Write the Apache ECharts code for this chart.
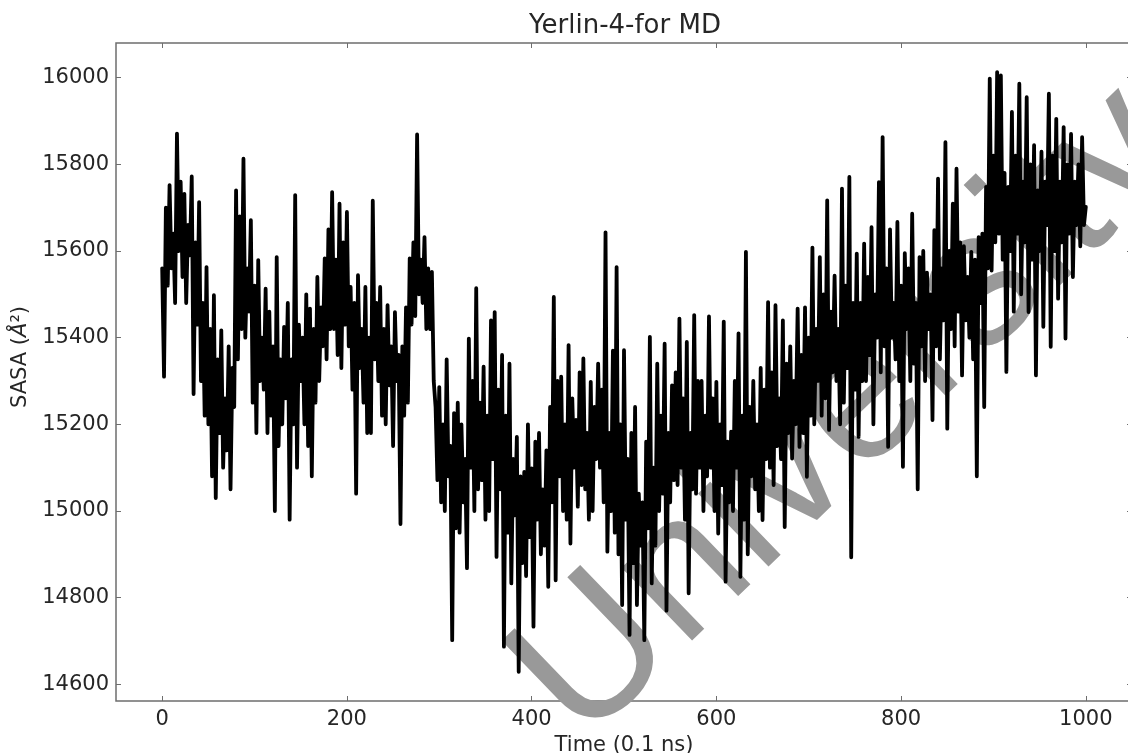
<!DOCTYPE html>
<html>
<head>
<meta charset="utf-8">
<title>Yerlin-4-for MD</title>
<script src="https://cdn.jsdelivr.net/npm/echarts@6/dist/echarts.min.js"></script>
<style>
  html, body { margin: 0; padding: 0; background: #fff; }
  #chart { width: 1128px; height: 753px; }
</style>
</head>
<body>
<div id="chart"></div>
<script>
// ── Data (one sample every 2 frames) ─────────────────────────

const SAMPLE_STEP = 2;   // time units between samples

// each row = 16 time units (peak, dip, peak, dip, ...)
const sasa = [
  15560, 15310, 15700, 15520, 15752, 15560, 15640, 15480,   // 0
  15871, 15600, 15760, 15540, 15732, 15480, 15660, 15590,
  15772, 15270, 15620, 15430, 15713, 15300, 15480, 15220,
  15563, 15200, 15420, 15080, 15498, 15030, 15350, 15180,
  15417, 15100, 15260, 15140, 15380, 15050, 15330, 15240,
  15740, 15350, 15680, 15420, 15813, 15400, 15560, 15460,   // 80
  15671, 15250, 15520, 15180, 15579, 15300, 15400, 15280,
  15513, 15180, 15460, 15220, 15380, 15000, 15586, 15150,
  15350, 15200, 15425, 15260, 15480, 14980, 15350, 15200,
  15729, 15100, 15430, 15300, 15400, 15200, 15500, 15150,
  15467, 15080, 15420, 15250, 15540, 15300, 15470, 15380,   // 160
  15583, 15350, 15650, 15420, 15736, 15420, 15580, 15360,
  15709, 15330, 15620, 15430, 15690, 15380, 15517, 15280,
  15480, 15040, 15544, 15330, 15420, 15250, 15517, 15180,
  15400, 15180, 15716, 15350, 15480, 15300, 15517, 15220,
  15420, 15200, 15475, 15290, 15380, 15150, 15459, 15300,   // 240
  15360, 14970, 15380, 15220, 15470, 15250, 15583, 15430,
  15620, 15450, 15869, 15500, 15580, 15480, 15632, 15420,
  15560, 15420, 15552, 15300, 15240, 15071, 15286, 15020,
  15200, 15000, 15350, 15080, 15150, 14702, 15226, 14960,
  15250, 14950, 15200, 15020, 15120, 14868, 15398, 15100,   // 320
  15300, 15000, 15514, 15050, 15250, 15071, 15333, 14980,
  15220, 15000, 15440, 15120, 15459, 14894, 15280, 15050,
  15360, 14687, 15220, 14950, 15340, 14833, 15120, 14990,
  15171, 14629, 15080, 14880, 15090, 14850, 15200, 14940,
  15098, 14733, 15160, 14980, 15180, 14900, 15050, 14920,   // 400
  15140, 14825, 15240, 15020, 15494, 14840, 15300, 15080,
  15310, 15000, 15200, 14980, 15383, 14925, 15260, 15100,
  15210, 15010, 15320, 15060, 15352, 15050, 15180, 14980,
  15298, 15000, 15240, 15120, 15340, 15100, 15280, 15020,
  15643, 14906, 15180, 15000, 15370, 14950, 15563, 14900,   // 480
  15200, 14783, 15371, 14980, 15120, 14714, 15180, 14880,
  15240, 14783, 15040, 14920, 15020, 14702, 15160, 14960,
  15402, 14833, 15100, 14920, 15340, 15000, 15220, 15040,
  15386, 14770, 15180, 15020, 15290, 15071, 15320, 15060,
  15444, 15100, 15260, 14980, 15390, 14810, 15180, 15050,   // 560
  15452, 15040, 15300, 15100, 15300, 15000, 15220, 15080,
  15449, 15100, 15260, 15000, 15298, 14948, 15200, 15060,
  15437, 14837, 15160, 15020, 15183, 15000, 15300, 15100,
  15410, 14848, 15220, 14980, 15598, 14900, 15240, 15080,
  15300, 15050, 15200, 15000, 15330, 14979, 15280, 15120,   // 640
  15482, 15100, 15320, 15060, 15475, 15150, 15260, 15120,
  15440, 14963, 15340, 15180, 15380, 15121, 15300, 15200,
  15467, 15148, 15360, 15180, 15470, 15079, 15400, 15220,
  15608, 15200, 15420, 15300, 15586, 15220, 15500, 15260,
  15717, 15187, 15460, 15320, 15543, 15300, 15420, 15200,   // 720
  15744, 15250, 15520, 15330, 15771, 14893, 15480, 15280,
  15594, 15171, 15480, 15300, 15617, 15300, 15540, 15360,
  15655, 15200, 15500, 15400, 15759, 15320, 15863, 15380,
  15560, 15148, 15650, 15400, 15480, 15350, 15667, 15300,
  15520, 15102, 15595, 15420, 15560, 15300, 15686, 15340,   // 800
  15480, 15050, 15586, 15380, 15600, 15300, 15550, 15420,
  15500, 15210, 15648, 15380, 15767, 15350, 15560, 15440,
  15851, 15190, 15600, 15420, 15709, 15380, 15790, 15460,
  15620, 15313, 15611, 15440, 15540, 15400, 15598, 15350,
  15580, 15080, 15632, 15480, 15640, 15240, 15748, 15560,   // 880
  15998, 15555, 15820, 15620, 16013, 15640, 16005, 15580,
  15780, 15321, 15748, 15600, 15921, 15460, 15820, 15640,
  15986, 15500, 15760, 15620, 15955, 15459, 15800, 15580,
  15844, 15313, 15740, 15600, 15829, 15425, 15760, 15660,
  15963, 15379, 15820, 15600, 15905, 15490, 15760, 15620,   // 960
  15886, 15398, 15800, 15640, 15870, 15540, 15760, 15660,
  15800, 15611, 15863, 15660,
  15702,                                                    // 1000
];

const xTicks = [0, 200, 400, 600, 800, 1000];
const yTicks = [14600, 14800, 15000, 15200, 15400, 15600, 15800, 16000];

const TITLE     = 'Yerlin-4-for MD';
const X_NAME    = 'Time (0.1 ns)';
const Y_NAME    = 'SASA ({it|Å}²)';
const WATERMARK = 'University';


// ── Styles ───────────────────────────────────────────────────

const FONT       = 'DejaVu Sans';
const TEXT_COLOR = '#262626';
const FRAME      = '#6e6e6e';

const points = sasa.map((v, i) => [i * SAMPLE_STEP, v]);

// matplotlib-style frame: ticks inside on all four sides
function frameAxis(ticks, extra) {
  return Object.assign({
    type: 'value',
    axisLine:  { show: false, onZero: false },
    splitLine: { show: false },
    axisTick:  { show: true, inside: true, length: 5, customValues: ticks,
                 lineStyle: { color: FRAME, width: 1 } },
    axisLabel: { show: false },
  }, extra);
}

const tickLabel = (margin) => ({
  margin,
  fontFamily: FONT,
  fontSize: 21,
  color: TEXT_COLOR,
  formatter: v => String(v),
});


// ── Chart ────────────────────────────────────────────────────

const chart = echarts.init(document.getElementById('chart'), null, { renderer: 'canvas' });

chart.setOption({
  backgroundColor: '#ffffff',
  animation: false,

  title: {
    text: TITLE,
    left: 620,
    top: 8,
    textAlign: 'center',
    textStyle: { fontFamily: FONT, fontSize: 26, fontWeight: 'normal', color: TEXT_COLOR },
  },

  grid: {
    left: 116, right: -4, top: 43, bottom: 52,
    outerBoundsMode: 'none',
    containLabel: false,
    show: true,
    borderColor: FRAME,
    borderWidth: 1.5,
    backgroundColor: 'transparent',
  },

  xAxis: [
    frameAxis(xTicks, {
      position: 'bottom',
      min: -50, max: 1050,
      name: X_NAME,
      nameLocation: 'middle',
      nameGap: 22,
      nameTextStyle: { fontFamily: FONT, fontSize: 21, color: TEXT_COLOR },
      axisLabel: Object.assign({ customValues: xTicks }, tickLabel(8)),
    }),
    frameAxis(xTicks, { position: 'top', min: -50, max: 1050 }),
  ],

  yAxis: [
    frameAxis(yTicks, {
      position: 'left',
      min: 14561.5, max: 16080,
      name: Y_NAME,
      nameLocation: 'middle',
      nameGap: 70,
      nameTextStyle: {
        fontFamily: FONT, fontSize: 21, color: TEXT_COLOR,
        padding: [0, 0, 0, 30],          // nudge the label up a little
        rich: { it: { fontFamily: FONT, fontSize: 21, fontStyle: 'italic', color: TEXT_COLOR } },
      },
      axisLabel: Object.assign({ customValues: yTicks }, tickLabel(7)),
    }),
    frameAxis(yTicks, { position: 'right', min: 14561.5, max: 16080 }),
  ],

  // diagonal watermark that sits under the trace
  graphic: [{
    type: 'text',
    x: 546, y: 708,
    rotation: 44 * Math.PI / 180,
    z: 1,
    silent: true,
    style: {
      text: WATERMARK,
      fontFamily: 'Liberation Sans',
      fontSize: 192,
      fill: '#999999',
      align: 'left',
      verticalAlign: 'middle',
    },
  }],

  series: [{
    type: 'line',
    xAxisIndex: 0,
    yAxisIndex: 0,
    data: points,
    showSymbol: false,
    symbol: 'none',
    z: 5,
    lineStyle: { color: '#000000', width: 3.8, cap: 'round', join: 'round' },
  }],
});
</script>
</body>
</html>
